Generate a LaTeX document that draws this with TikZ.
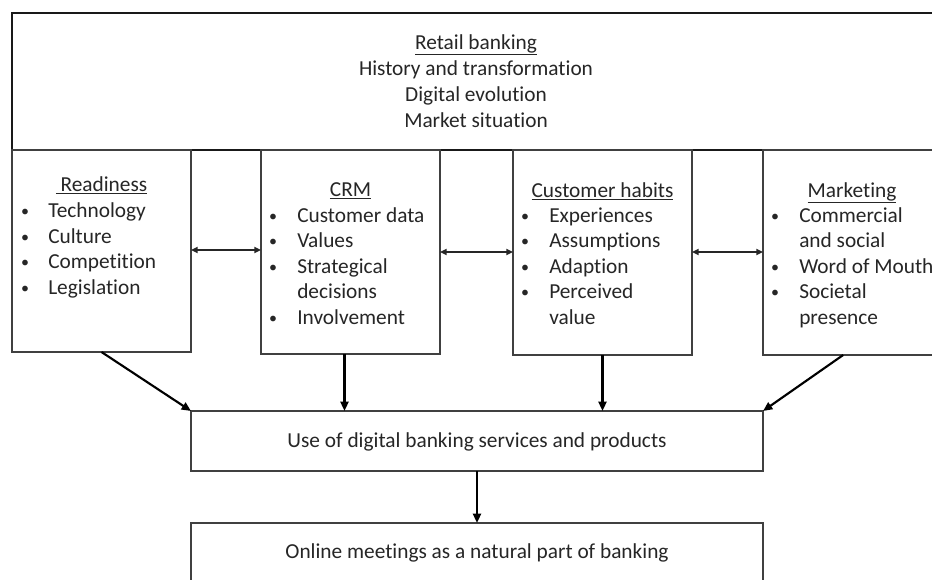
\documentclass[tikz,border=0pt]{standalone}
\usepackage{fontspec}
\setmainfont{Carlito}[Ligatures=NoCommon]
\usetikzlibrary{arrows.meta}
\begin{document}
\begin{tikzpicture}[x=0.75pt,y=-0.75pt,
  font=\fontsize{16pt}{19.2pt}\selectfont,
  box/.style={draw=black!75,line width=1.1pt,inner sep=0pt,outer sep=0pt,fill=none},
  topbox/.style={draw=black!90,line width=1.5pt,inner sep=0pt,outer sep=0pt},
  txt/.style={inner sep=0pt,text=black!85},
  ttl/.style={txt,anchor=base},
  itm/.style={txt,anchor=base west},
  bul/.style={txt,anchor=base,font=\fontsize{12pt}{14pt}\selectfont},
  arr/.style={line width=1.6pt,black,-{Triangle[length=7pt,width=6pt]}},
  dbl/.style={line width=1.2pt,black!85,{Triangle[length=5pt,width=4.5pt]}-{Triangle[length=5pt,width=4.5pt]}}
]
\useasboundingbox (0,0) rectangle (932,579);
\clip (0,0) rectangle (932,579);
\fill[white] (0,0) rectangle (932,579);

% boxes
\node[topbox,minimum width=696pt,minimum height=102.75pt] (top) at (476,81.5) {};
\node[box,minimum width=134.25pt,minimum height=151.5pt] (ready) at (101.5,251) {};
\node[box,minimum width=134.25pt,minimum height=153pt] (crm) at (350.5,252) {};
\node[box,minimum width=134.25pt,minimum height=153.75pt] (hab) at (602.5,252.5) {};
\node[box,minimum width=134.25pt,minimum height=153.75pt] (mkt) at (852.5,252.5) {};
\node[box,minimum width=429pt,minimum height=45pt] (use) at (477,441) {};
\node[box,minimum width=429pt,minimum height=57.75pt] (online) at (477,561.5) {};

% top box text
\node[ttl] (t0) at (476,49) {\underline{Retail banking}};
\node[ttl] (t1) at (476,75) {History and transformation};
\node[ttl] (t2) at (476,101) {Digital evolution};
\node[ttl] (t3) at (476,127) {Market situation};

% Readiness
\node[ttl] (r0) at (101.5,191) {\underline{\ Readiness}};
\node[bul] (rb1) at (25,216) {•};
\node[itm] (r1) at (48,217) {Technology};
\node[bul] (rb2) at (25,242) {•};
\node[itm] (r2) at (48,243) {Culture};
\node[bul] (rb3) at (25,267.5) {•};
\node[itm] (r3) at (48,268.5) {Competition};
\node[bul] (rb4) at (25,293) {•};
\node[itm] (r4) at (48,294) {Legislation};

% CRM
\node[ttl] (c0) at (350.5,196) {\underline{CRM}};
\node[bul] (cb1) at (273,221) {•};
\node[itm] (c1) at (297,222) {Customer data};
\node[bul] (cb2) at (273,246.5) {•};
\node[itm] (c2) at (297,247.5) {Values};
\node[bul] (cb3) at (273,272) {•};
\node[itm] (c3) at (297,273) {Strategical};
\node[itm] (c4) at (297,298.5) {decisions};
\node[bul] (cb5) at (273,323) {•};
\node[itm] (c5) at (297,324) {Involvement};

% Customer habits
\node[ttl] (h0) at (602.5,197) {\underline{Customer habits}};
\node[bul] (hb1) at (525,221) {•};
\node[itm] (h1) at (549,222) {Experiences};
\node[bul] (hb2) at (525,246.5) {•};
\node[itm] (h2) at (549,247.5) {Assumptions};
\node[bul] (hb3) at (525,272) {•};
\node[itm] (h3) at (549,273) {Adaption};
\node[bul] (hb4) at (525,297.5) {•};
\node[itm] (h4) at (549,298.5) {Perceived};
\node[itm] (h5) at (549,324) {value};

% Marketing
\node[ttl] (m0) at (852,197) {\underline{Marketing}};
\node[bul] (mb1) at (775,221) {•};
\node[itm] (m1) at (799,222) {Commercial};
\node[itm] (m2) at (799,247.5) {and social};
\node[bul] (mb3) at (775,272) {•};
\node[itm] (m3) at (799,273) {Word of Mouth};
\node[bul] (mb4) at (775,297.5) {•};
\node[itm] (m4) at (799,298.5) {Societal};
\node[itm] (m5) at (799,324) {presence};

% bottom texts
\node[txt] (ut) at (477,442) {Use of digital banking services and products};
\node[txt] (ot) at (477,553) {Online meetings as a natural part of banking};

% horizontal double arrows
\draw[dbl] (ready.east |- 0,250) -- (crm.west |- 0,250);
\draw[dbl] (crm.east |- 0,252) -- (hab.west |- 0,252);
\draw[dbl] (hab.east |- 0,252) -- (mkt.west |- 0,252);

% arrows to use
\coordinate (crmout) at ([xshift=-4.5pt]crm.south);
\coordinate (mktout) at ([xshift=-7pt]mkt.south);
\draw[arr] (ready.south) -- (use.north west);
\draw[arr] (crmout) -- (crmout |- use.north);
\draw[arr] (hab.south) -- (hab.south |- use.north);
\draw[arr] (mktout) -- (use.north east);
\draw[arr] (use.south) -- (online.north);
\end{tikzpicture}
\end{document}
